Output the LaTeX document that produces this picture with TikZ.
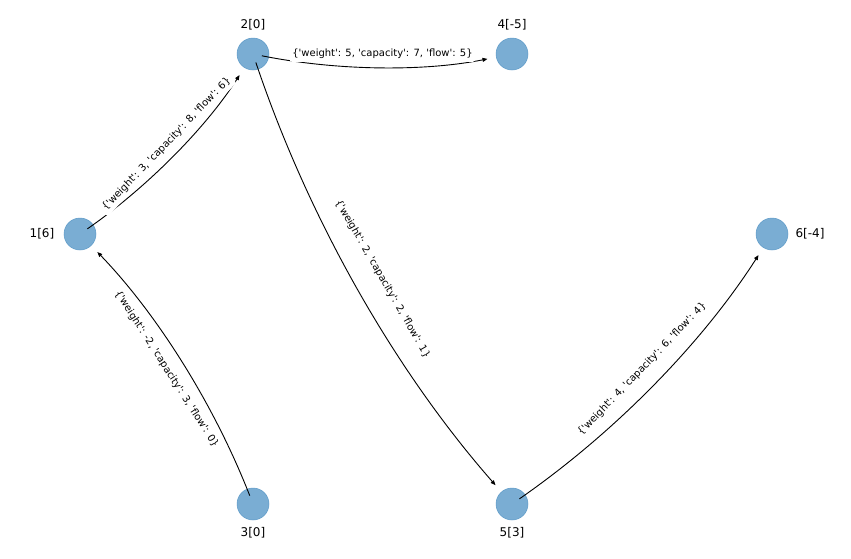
\documentclass[tikz,border=0pt]{standalone}
\usepackage{fontspec}
\setmainfont{DejaVu Sans}
\usetikzlibrary{positioning, arrows.meta, calc}
\definecolor{nodo}{HTML}{7AADD3}
\definecolor{contorno}{HTML}{5E9BC8}
\newcommand{\sq}{\textquotesingle}
\newcommand{\pesos}[3]{\{\sq weight\sq: #1, \sq capacity\sq: #2, \sq flow\sq: #3\}}

\begin{document}
\begin{tikzpicture}[x=1pt, y=-1pt,
	vertice/.style={circle, fill=nodo, draw=contorno, line width=0.5pt, minimum size=32pt, inner sep=0pt},
	nombre/.style={font=\fontsize{12}{14}\selectfont, inner sep=0pt},
	arista/.style={line width=0.9pt, -{Triangle[length=5pt, width=4pt]}, shorten <=9pt, shorten >=25pt},
	etiqueta/.style={font=\fontsize{10}{12}\selectfont, fill=white, rounded corners=3pt, inner sep=3pt}]
	\useasboundingbox (0,0) rectangle (851,558);
	% vertices with their names
	\foreach \n/\x/\y/\t/\dx/\dy in {1/80/234/{1[6]}/-38/0, 2/253/54/{2[0]}/0/-29,
	                                 3/253/504/{3[0]}/0/29, 4/512/54/{4[-5]}/0/-29,
	                                 5/512/504/{5[3]}/0/29, 6/772/234/{6[-4]}/38/0} {
		\node[vertice] (n\n) at (\x,\y) {};
		\node[nombre] (l\n) at (\x+\dx,\y+\dy) {\t};
	}
	% arcs
	\foreach \a/\b in {1/2, 3/1, 2/4, 2/5, 5/6} {
		\coordinate (m) at ($(n\a.center)!0.5!(n\b.center)$);
		\coordinate (q) at ($(m)!0.2!-90:(n\b.center)$);
		\draw[arista] (n\a.center) .. controls ($(n\a.center)!2/3!(q)$) and ($(n\b.center)!2/3!(q)$) .. (n\b.center);
	}
	% edge data
	\foreach \a/\b/\r/\w/\c/\f in {1/2/46.1/3/8/6, 3/1/-57.4/-2/3/0, 2/4/0/5/7/5,
	                               2/5/-60.1/2/2/1, 5/6/46.1/4/6/4} {
		\node[etiqueta, rotate=\r] (p\a\b) at ($(n\a.center)!0.5!(n\b.center)$) {\pesos{\w}{\c}{\f}};
	}
\end{tikzpicture}
\end{document}
